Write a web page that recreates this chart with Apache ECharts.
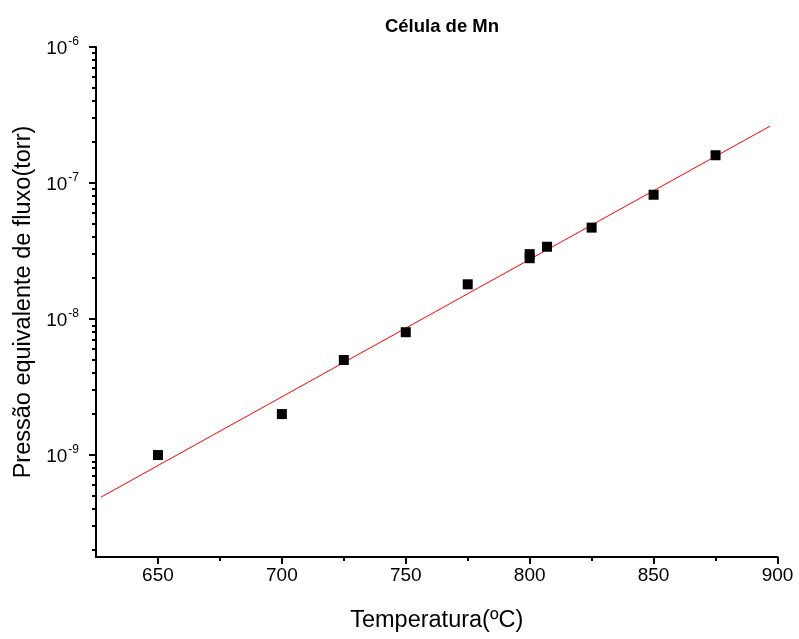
<!DOCTYPE html>
<html>
<head>
<meta charset="utf-8">
<script src="https://cdn.jsdelivr.net/npm/echarts@6/dist/echarts.min.js"></script>
<style>
  html, body { margin: 0; padding: 0; background: #fff; }
  #chart { width: 799px; height: 639px; }
</style>
</head>
<body>
<div id="chart"></div>
<script>
// Measured equivalent flux pressure of the Mn cell vs. temperature
const temperatures = [650, 700, 725, 750, 775, 800, 800, 807, 825, 850, 875];
const pressures = [1.0e-9, 2.0e-9, 5.0e-9, 8.0e-9, 1.8e-8, 3.0e-8, 2.8e-8, 3.4e-8, 4.7e-8, 8.2e-8, 1.6e-7];

// Exponential fit, straight on the log axis (end points)
const fitTemps = [627, 897];
const fitPressures = [4.9e-10, 2.62e-7];

// Axis ticks
const xMajorTicks = [650, 700, 750, 800, 850, 900];
const xMinorTicks = [675, 725, 775, 825, 875];
const yMajorTicks = [1e-9, 1e-8, 1e-7, 1e-6];
const yMinorTicks = [];
for (let e = -10; e <= -7; e++) {
  for (let m = 2; m <= 9; m++) yMinorTicks.push(m * Math.pow(10, e));
}

const FONT = '"Liberation Sans", Arial, sans-serif';
const X_MIN = 625, X_MAX = 900, Y_MIN = 1.78e-10, Y_MAX = 1e-6;

const chart = echarts.init(document.getElementById('chart'));

const expLabel = v => {
  const e = Math.round(Math.log10(v));
  return '{b|10}{s|' + e + '}';
};

chart.setOption({
  animation: false,
  backgroundColor: '#fff',
  title: {
    text: 'Célula de Mn',
    left: 437, top: 12, textAlign: 'center',
    textStyle: { fontFamily: FONT, fontSize: 18.5, fontWeight: 'bold', color: '#000' }
  },
  grid: { left: 96, right: 21.5, top: 47, bottom: 82, containLabel: false },
  xAxis: [{
    type: 'value', min: X_MIN, max: X_MAX,
    name: 'Temperatura(ºC)', nameLocation: 'middle', nameGap: 52,
    nameTextStyle: { fontFamily: FONT, fontSize: 23.5, color: '#000' },
    axisLine: { onZero: false, lineStyle: { color: '#000', width: 2 } },
    axisTick: { show: true, inside: false, length: 7, lineStyle: { width: 2, color: '#000' }, customValues: xMajorTicks },
    axisLabel: { fontFamily: FONT, fontSize: 19, color: '#000', margin: 9, customValues: xMajorTicks },
    splitLine: { show: false }
  }, {
    type: 'value', min: X_MIN, max: X_MAX, position: 'bottom',
    axisLine: { show: false },
    axisTick: { show: true, length: 4, lineStyle: { width: 2, color: '#000' }, customValues: xMinorTicks },
    axisLabel: { show: false },
    splitLine: { show: false }
  }],
  yAxis: [{
    type: 'log', logBase: 10, min: Y_MIN, max: Y_MAX,
    name: 'Pressão equivalente de fluxo(torr)', nameLocation: 'middle', nameGap: 60, nameRotate: 90,
    nameTextStyle: { fontFamily: FONT, fontSize: 23.5, color: '#000' },
    axisLine: { show: true, lineStyle: { color: '#000', width: 2 } },
    axisTick: { show: true, length: 7, lineStyle: { width: 2, color: '#000' }, customValues: yMajorTicks },
    axisLabel: {
      customValues: yMajorTicks, margin: 17,
      formatter: expLabel,
      rich: {
        b: { fontFamily: FONT, fontSize: 19, color: '#000', verticalAlign: 'bottom' },
        s: { fontFamily: FONT, fontSize: 12, color: '#000', verticalAlign: 'top', padding: [0, 0, 11, 1] }
      }
    },
    splitLine: { show: false }
  }, {
    type: 'log', logBase: 10, min: Y_MIN, max: Y_MAX, position: 'left',
    axisLine: { show: false },
    axisTick: { show: true, length: 4, lineStyle: { width: 2, color: '#000' }, customValues: yMinorTicks },
    axisLabel: { show: false },
    splitLine: { show: false }
  }],
  series: [{
    type: 'line',
    data: fitTemps.map((t, i) => [t, fitPressures[i]]),
    showSymbol: false,
    lineStyle: { color: '#ff0000', width: 1 },
    z: 2
  }, {
    type: 'scatter',
    data: temperatures.map((t, i) => [t, pressures[i]]),
    symbol: 'rect', symbolSize: 10,
    itemStyle: { color: '#000', opacity: 1 },
    z: 3
  }]
});
</script>
</body>
</html>
